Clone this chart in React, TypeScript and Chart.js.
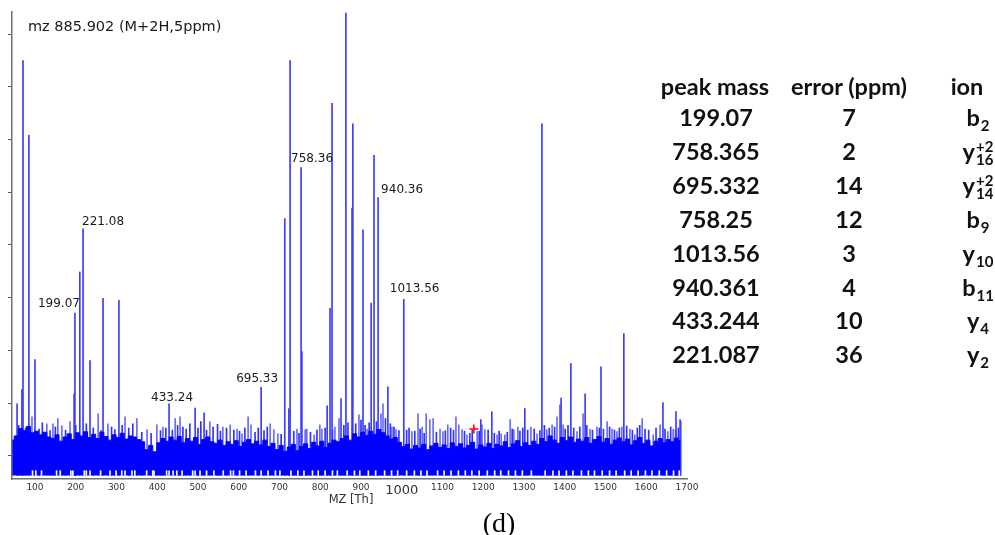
import React, { useEffect, useRef } from "react";
import { Chart, registerables } from "chart.js";
Chart.register(...registerables);

// ---------------- DATA ----------------
const xTickValues = [100, 200, 300, 400, 500, 600, 700, 800, 900, 1000, 1100, 1200, 1300, 1400, 1500, 1600, 1700];
const yTickValues = [0.371, 1.371, 2.371, 3.371, 4.371, 5.371, 6.371, 7.371, 8.371];

const peakMz = [56, 68, 70.6, 85, 100, 196, 198, 210, 218, 235, 267, 306, 429, 493, 515, 655, 713, 723, 726, 753, 755, 817, 824, 829, 851, 863, 878, 880, 905, 925, 932, 942, 966, 1005, 1194, 1221, 1302, 1344, 1391, 1415, 1450, 1489, 1545, 1641, 1673, 1683];
const peakInt = [1.36, 1.63, 7.87, 6.45, 2.2, 1.55, 3.08, 3.86, 4.68, 2.18, 3.36, 3.32, 1.36, 1.28, 1.19, 1.67, 4.87, 1.27, 7.87, 5.84, 2.35, 1.32, 3.17, 7.06, 1.46, 8.77, 5.07, 6.67, 4.66, 3.27, 6.07, 5.27, 1.68, 3.34, 1.06, 1.21, 1.27, 6.67, 1.47, 2.12, 1.55, 2.06, 2.69, 1.38, 1.21, 1.06];

// taller noise spikes above the floor
const noiseSpikeMz = [92.6, 129, 144, 156, 166, 186, 255, 279, 321, 350, 375, 399, 414, 444, 456, 529, 561, 579, 596, 608, 623, 630, 677, 686, 696, 743, 763, 767, 785, 799, 804, 836, 846, 895, 915, 949, 954, 976, 986, 1025, 1040, 1050, 1060, 1069, 1077, 1094, 1101, 1113, 1133, 1140, 1148, 1160, 1185, 1197, 1204, 1234, 1244, 1253, 1266, 1275, 1285, 1317, 1332, 1356, 1369, 1381, 1388, 1396, 1430, 1445, 1462, 1479, 1504, 1516, 1528, 1540, 1560, 1572, 1590, 1617, 1634, 1653, 1666, 1685];
const noiseSpikeInt = [1.11, 0.98, 0.98, 1.08, 0.94, 1.02, 1.17, 0.98, 1.11, 1.08, 0.87, 0.96, 0.92, 1.08, 1.11, 1.02, 0.92, 0.96, 0.88, 0.79, 1.11, 0.96, 0.98, 0.87, 0.79, 0.88, 0.87, 0.88, 0.77, 0.96, 0.88, 0.92, 1.08, 1.15, 0.88, 1.17, 1.36, 0.92, 0.87, 0.83, 1.17, 0.92, 1.17, 1.06, 1.08, 0.88, 0.83, 0.96, 1.11, 0.96, 0.87, 0.77, 0.83, 0.96, 0.87, 0.77, 0.79, 0.77, 1.06, 0.87, 0.92, 0.92, 0.79, 0.87, 0.96, 1.11, 1.34, 0.96, 0.83, 1.17, 0.88, 0.92, 1.02, 0.88, 0.83, 0.92, 0.88, 0.77, 1.08, 0.77, 0.96, 0.83, 0.88, 1.02];

// shorter comb of noise lines just above the floor
const noiseCombMz = [60, 77, 110, 118, 137, 150, 175, 200, 226, 243, 262, 288, 296, 314, 330, 340, 362, 385, 408, 421, 437, 450, 463, 471, 480, 500, 507, 521, 537, 548, 555, 570, 588, 602, 615, 640, 648, 662, 670, 704, 735, 748, 776, 792, 812, 830, 858, 868, 887, 900, 910, 920, 938, 960, 972, 981, 993, 1012, 1018, 1032, 1045, 1055, 1085, 1107, 1120, 1127, 1154, 1167, 1173, 1190, 1212, 1227, 1239, 1259, 1271, 1290, 1297, 1309, 1325, 1339, 1350, 1362, 1375, 1401, 1408, 1422, 1437, 1454, 1468, 1485, 1495, 1510, 1522, 1534, 1552, 1566, 1578, 1584, 1597, 1606, 1624, 1646, 1660, 1672, 1679];
const noiseCombInt = [0.95, 0.9, 0.88, 1.0, 0.85, 0.92, 0.86, 0.95, 0.98, 0.9, 0.85, 0.92, 0.87, 0.95, 0.9, 0.98, 0.82, 0.8, 0.85, 0.9, 0.86, 0.95, 0.92, 0.88, 0.98, 0.9, 1.02, 0.86, 0.92, 0.97, 0.84, 0.9, 0.86, 0.84, 0.9, 0.82, 0.9, 0.85, 0.92, 0.78, 0.84, 0.8, 0.82, 0.86, 0.9, 0.86, 0.95, 1.0, 0.98, 1.05, 0.95, 1.0, 1.02, 1.08, 0.98, 0.92, 0.85, 0.86, 0.9, 0.84, 0.88, 0.8, 0.82, 0.85, 0.9, 0.86, 0.84, 0.8, 0.86, 0.84, 0.86, 0.8, 0.84, 0.82, 0.88, 0.84, 0.9, 0.86, 0.88, 0.85, 0.95, 0.9, 0.92, 0.88, 0.95, 0.9, 0.92, 0.95, 0.86, 0.9, 0.88, 0.92, 0.86, 0.9, 0.94, 0.86, 0.9, 0.95, 0.88, 0.86, 0.9, 0.88, 0.92, 0.86, 0.9];

// dense noise floor, sampled every 10 Th from 44 Th
const noiseFloorStartMz = 44;
const noiseFloorStepMz = 10;
const noiseFloorInt = [
  0.67, 0.75, 0.89, 0.85, 0.93, 0.81, 0.84, 0.77, 0.82, 0.73,
  0.7, 0.77, 0.65, 0.73, 0.79, 0.68, 0.81, 0.75, 0.83, 0.72,
  0.78, 0.7, 0.82, 0.74, 0.67, 0.77, 0.72, 0.8, 0.69, 0.75,
  0.73, 0.68, 0.64, 0.49, 0.57, 0.45, 0.62, 0.7, 0.65, 0.73,
  0.67, 0.74, 0.62, 0.7, 0.65, 0.72, 0.59, 0.68, 0.73, 0.64,
  0.61, 0.67, 0.57, 0.64, 0.59, 0.66, 0.55, 0.63, 0.68, 0.6,
  0.65, 0.58, 0.67, 0.55, 0.61, 0.49, 0.57, 0.46, 0.54, 0.59,
  0.47, 0.55, 0.6, 0.51, 0.63, 0.56, 0.65, 0.53, 0.61, 0.67,
  0.64, 0.7, 0.75, 0.67, 0.79, 0.73, 0.82, 0.76, 0.84, 0.78,
  0.87, 0.81, 0.75, 0.69, 0.72, 0.63, 0.55, 0.59, 0.5, 0.57,
  0.52, 0.59, 0.49, 0.56, 0.61, 0.53, 0.58, 0.51, 0.62, 0.55,
  0.6, 0.52, 0.57, 0.63, 0.5, 0.58, 0.54, 0.61, 0.51, 0.59,
  0.56, 0.64, 0.53, 0.6, 0.66, 0.55, 0.62, 0.57, 0.65, 0.59,
  0.7, 0.64, 0.75, 0.67, 0.61, 0.72, 0.66, 0.73, 0.63, 0.69,
  0.65, 0.72, 0.61, 0.68, 0.74, 0.63, 0.7, 0.59, 0.67, 0.71,
  0.64, 0.69, 0.58, 0.66, 0.72, 0.61, 0.67, 0.56, 0.65, 0.7,
  0.62, 0.68, 0.64, 0.71, 0.66,
];

// white gaps at the foot of the noise floor
const floorGapMz = [94, 102, 116, 153, 162, 188, 193, 221, 226, 235, 261, 284, 299, 313, 321, 338, 345, 374, 389, 392, 423, 429, 439, 448, 461, 487, 493, 505, 521, 539, 562, 580, 587, 602, 618, 641, 655, 672, 690, 701, 728, 745, 760, 781, 795, 812, 830, 842, 866, 884, 897, 918, 936, 958, 975, 990, 1012, 1031, 1047, 1062, 1088, 1104, 1121, 1139, 1156, 1172, 1190, 1210, 1228, 1243, 1262, 1279, 1296, 1318, 1352, 1371, 1386, 1404, 1420, 1441, 1458, 1473, 1492, 1510, 1526, 1547, 1563, 1580, 1598, 1614, 1632, 1650, 1667, 1681];
const floorGapInt = 0.09;

const precursorMz = [1177];
const precursorInt = [0.88];

const peakLabelText = ["199.07", "221.08", "433.24", "695.33", "758.36", "940.36", "1013.56"];
const peakLabelMz = [198, 218, 429, 655, 753, 942, 1005];

const titleText = "mz 885.902 (M+2H,5ppm)";
const xAxisTitle = "MZ [Th]";
const captionText = "(d)";

const tableHeader = ["peak mass", "error (ppm)", "ion"];
const tablePeakMass = ["199.07", "758.365", "695.332", "758.25", "1013.56", "940.361", "433.244", "221.087"];
const tableError = ["7", "2", "14", "12", "3", "4", "10", "36"];
const tableIonBase = ["b", "y", "y", "b", "y", "b", "y", "y"];
const tableIonSub = ["2", "16", "14", "9", "10", "11", "4", "2"];
const tableIonSup = ["", "+2", "+2", "", "", "", "", ""];

// ---------------- STYLE / LAYOUT ----------------
const labelOffsets = [[-37, -9], [-1, -7], [-18, -6], [-25, -9], [-10, -9], [3, -8], [-14, -10]];
const tableRowY = [118, 152, 186, 220, 254, 288, 321, 355];
const tableHeaderY = 87;
const tableFont = "Lato, 'Open Sans', sans-serif";

const annotatePlugin = {
  id: "annotate",
  afterDatasetsDraw(chart: any) {
    const { ctx, chartArea, scales } = chart;
    const xs = scales.x;
    const ys = scales.y;
    ctx.save();
    ctx.fillStyle = "#1a1a1a";
    ctx.textBaseline = "middle";
    ctx.textAlign = "left";
    ctx.font = '12px "DejaVu Sans"';
    peakLabelText.forEach((t, i) => {
      const idx = peakMz.indexOf(peakLabelMz[i]);
      const px = xs.getPixelForValue(peakMz[idx]);
      const py = ys.getPixelForValue(peakInt[idx]);
      ctx.fillText(t, px + labelOffsets[i][0], py + labelOffsets[i][1]);
    });
    ctx.font = '14.5px "DejaVu Sans"';
    ctx.fillText(titleText, chartArea.left + 16, 27);
    ctx.font = '11.5px "DejaVu Sans"';
    ctx.fillStyle = "#333";
    ctx.textAlign = "center";
    ctx.fillText(xAxisTitle, (chartArea.left + chartArea.right) / 2 + 1.5, chartArea.bottom + 21);
    ctx.restore();
  },
};

function Ion({ base, sub, sup }: { base: string; sub: string; sup: string }) {
  return (
    <span>
      {base}
      <span style={{ position: "relative", display: "inline-block", fontSize: 15, lineHeight: 1, top: 5, marginLeft: 1 }}>
        {sub}
        {sup ? <span style={{ position: "absolute", left: 0, bottom: 13 }}>{sup}</span> : null}
      </span>
    </span>
  );
}

export default function App() {
  const canvasRef = useRef<HTMLCanvasElement | null>(null);

  useEffect(() => {
    const canvas = canvasRef.current;
    if (!canvas) return;
    const peaks = peakMz.map((m, i) => ({ x: m, y: peakInt[i] }));
    const spikes = noiseSpikeMz.map((m, i) => ({ x: m, y: noiseSpikeInt[i] }));
    const comb = noiseCombMz.map((m, i) => ({ x: m, y: noiseCombInt[i] }));
    const gaps = floorGapMz.map((m) => ({ x: m, y: floorGapInt }));
    const floor = noiseFloorInt.map((v, i) => ({ x: noiseFloorStartMz + i * noiseFloorStepMz, y: v }));
    const prec = precursorMz.map((m, i) => ({ x: m, y: precursorInt[i] }));

    const chart = new Chart(canvas, {
      type: "bar",
      data: {
        datasets: [
          {
            type: "scatter",
            data: prec,
            pointStyle: "cross",
            pointRadius: 4.5,
            borderColor: "#ff0000",
            backgroundColor: "#ff0000",
            borderWidth: 1.5,
            order: 0,
          } as any,
          {
            type: "bar",
            data: gaps,
            backgroundColor: "#ffffff",
            barThickness: 1,
            grouped: false,
            order: 1,
          } as any,
          {
            type: "line",
            data: floor,
            borderColor: "#0000ff",
            borderWidth: 1,
            backgroundColor: "#0000ff",
            fill: "origin",
            pointRadius: 0,
            tension: 0,
            stepped: "middle",
            order: 2,
          } as any,
          {
            type: "bar",
            data: peaks,
            backgroundColor: "#3c3cff",
            barThickness: 1,
            grouped: false,
            order: 3,
          } as any,
          {
            type: "bar",
            data: comb,
            backgroundColor: "#3030ff",
            barThickness: 1,
            grouped: false,
            order: 4,
          } as any,
          {
            type: "bar",
            data: spikes,
            backgroundColor: "#6a6aff",
            barThickness: 1,
            grouped: false,
            order: 5,
          } as any,
        ],
      },
      options: {
        responsive: false,
        animation: false,
        devicePixelRatio: 1,
        layout: { autoPadding: false, padding: { left: 8, top: 12, right: 16, bottom: 9 } },
        plugins: { legend: { display: false }, tooltip: { enabled: false } },
        scales: {
          x: {
            type: "linear",
            min: 43.6,
            max: 1700,
            offset: false,
            grid: { display: false, drawTicks: false, tickLength: 0 },
            border: { display: true, color: "#707070", width: 1.5 },
            afterBuildTicks: (axis: any) => {
              axis.ticks = xTickValues.map((v) => ({ value: v }));
            },
            afterFit: (axis: any) => {
              axis.height = 22;
            },
            ticks: {
              autoSkip: false,
              maxRotation: 0,
              padding: 3.5,
              color: "#333",
              callback: (v: any) => String(v),
              font: (c: any) =>
                c.tick && c.tick.value === 1000
                  ? { family: "DejaVu Sans", size: 13 }
                  : { family: "DejaVu Sans", size: 9 },
            },
          },
          y: {
            type: "linear",
            min: -0.067,
            max: 8.79,
            grid: { display: true, drawOnChartArea: false, drawTicks: true, tickLength: 4, color: "#555" },
            border: { display: true, color: "#707070", width: 1.5 },
            afterBuildTicks: (axis: any) => {
              axis.ticks = yTickValues.map((v) => ({ value: v }));
            },
            afterFit: (axis: any) => {
              axis.width = 4;
            },
            ticks: { display: false },
          },
        },
      } as any,
      plugins: [annotatePlugin],
    });
    return () => chart.destroy();
  }, []);

  const cellBase: React.CSSProperties = {
    position: "absolute",
    fontFamily: tableFont,
    fontWeight: 700,
    fontSize: 23.5,
    lineHeight: 1,
    color: "#111",
    whiteSpace: "nowrap",
  };

  return (
    <div style={{ position: "fixed", left: 0, top: 0, width: 995, height: 535, background: "#fff", overflow: "hidden" }}>
      <canvas ref={canvasRef} width={703} height={510} style={{ position: "absolute", left: 0, top: 0 }} />
      <div style={{ ...cellBase, left: 715, top: tableHeaderY, transform: "translate(-50%,-50%)" }}>{tableHeader[0]}</div>
      <div style={{ ...cellBase, left: 849, top: tableHeaderY, transform: "translate(-50%,-50%)" }}>{tableHeader[1]}</div>
      <div style={{ ...cellBase, left: 967, top: tableHeaderY, transform: "translate(-50%,-50%)" }}>{tableHeader[2]}</div>
      {tablePeakMass.map((m, i) => (
        <div key={"m" + i} style={{ ...cellBase, left: 716, top: tableRowY[i], transform: "translate(-50%,-50%)" }}>{m}</div>
      ))}
      {tableError.map((e, i) => (
        <div key={"e" + i} style={{ ...cellBase, left: 849, top: tableRowY[i], transform: "translate(-50%,-50%)" }}>{e}</div>
      ))}
      {tableIonBase.map((b, i) => (
        <div key={"i" + i} style={{ ...cellBase, left: 978, top: tableRowY[i], transform: "translate(-50%,-50%)" }}>
          <Ion base={b} sub={tableIonSub[i]} sup={tableIonSup[i]} />
        </div>
      ))}
      <div
        style={{
          position: "absolute",
          left: 499,
          top: 523,
          transform: "translate(-50%,-50%)",
          fontFamily: "'Liberation Serif', 'DejaVu Serif', serif",
          fontSize: 28,
          lineHeight: 1,
          color: "#000",
        }}
      >
        {captionText}
      </div>
    </div>
  );
}
